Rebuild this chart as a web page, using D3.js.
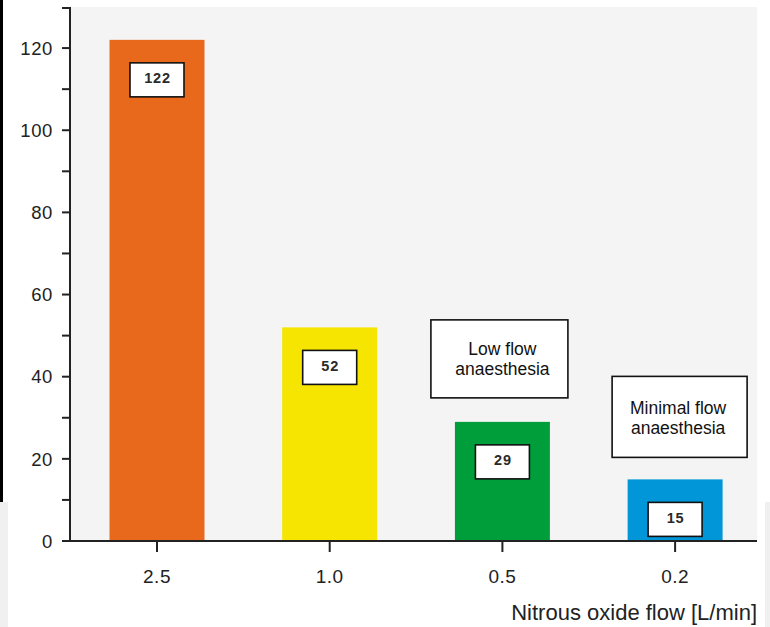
<!DOCTYPE html>
<html><head><meta charset="utf-8">
<script src="https://cdn.jsdelivr.net/npm/d3@7"></script>
<style>body{margin:0;background:#fff}svg{display:block}</style>
</head><body>
<svg id="c" width="770" height="627"></svg>
<script>
const categories = ["2.5", "1.0", "0.5", "0.2"];
const values = [122, 52, 29, 15];
const colors = ["#e8691b", "#f6e500", "#009e3b", "#0096d8"];
const yTicks = [0, 20, 40, 60, 80, 100, 120];
const yMinorTicks = [10, 30, 50, 70, 90, 110, 130];
const annotations = [
  {cat: "0.5", lines: ["Low flow", "anaesthesia"]},
  {cat: "0.2", lines: ["Minimal flow", "anaesthesia"]}
];
const xTitle = "Nitrous oxide flow [L/min]";

const svg = d3.select("#c");
const font = "'Liberation Sans', Arial, Helvetica, sans-serif";
const m = {l: 70, r: 13, t: 7, b: 86};
const W = 770, H = 627;
const pw = W - m.l - m.r, ph = H - m.t - m.b;

// edge artifacts
svg.append("rect").attr("x",0).attr("y",0).attr("width",3).attr("height",546).attr("fill","#000");
svg.append("rect").attr("x",0).attr("y",502).attr("width",8).attr("height",125).attr("fill","#f0f0f0");
svg.append("rect").attr("x",765).attr("y",502).attr("width",5).attr("height",125).attr("fill","#f0f0f0");

const g = svg.append("g").attr("transform", `translate(${m.l},${m.t})`);
g.append("rect").attr("x",1).attr("y",0).attr("width",pw-1).attr("height",ph).attr("fill","#f4f4f4");

const x = d3.scaleBand().domain(categories).range([39.5, 652.6]).paddingInner(0.45).paddingOuter(0);
const y = d3.scaleLinear().domain([0, 130]).range([ph, 0]);
const cx = c => x(c) + x.bandwidth() / 2;

g.selectAll("rect.bar").data(values).join("rect").attr("class","bar")
  .attr("x",(d,i)=>x(categories[i])).attr("width",x.bandwidth())
  .attr("y",d=>y(d)).attr("height",d=>ph-y(d)).attr("fill",(d,i)=>colors[i]);

// value labels
const lbl = g.selectAll("g.lbl").data(values).join("g").attr("class","lbl")
  .attr("transform",(d,i)=>`translate(${cx(categories[i])},${y(d)+23})`);
lbl.append("rect").attr("x",-27).attr("y",0).attr("width",54).attr("height",34)
  .attr("fill","#fff").attr("stroke","#111").attr("stroke-width",1.6);
lbl.append("text").attr("x",0.5).attr("y",20.5).attr("text-anchor","middle")
  .attr("font-family",font).attr("font-size",14.5).attr("font-weight","bold").attr("letter-spacing",0.8)
  .attr("fill","#2a2a2a").text(d=>d);

// annotations
const boxes = [{w:137,h:78,gap:24,dx:-3,tdx:0,b1:-4,b2:16}, {w:135,h:81,gap:22,dx:4.5,tdx:3,b1:-2.5,b2:17.5}];
annotations.forEach((a,k)=>{
  const i = categories.indexOf(a.cat);
  const b = boxes[k];
  const top = y(values[i]) - b.gap - b.h;
  const ag = g.append("g").attr("transform",`translate(${cx(a.cat)},${top})`);
  ag.append("rect").attr("x",-b.w/2+b.dx).attr("y",0).attr("width",b.w).attr("height",b.h)
    .attr("fill","#fff").attr("stroke","#111").attr("stroke-width",1.6);
  a.lines.forEach((t,j)=>{
    ag.append("text").attr("x",b.tdx).attr("y",b.h/2 + (j===0?b.b1:b.b2)).attr("text-anchor","middle")
      .attr("font-family",font).attr("font-size",17.5).attr("fill","#111").text(t);
  });
});

// y axis
const ya = g.append("g");
ya.append("line").attr("x1",0).attr("x2",0).attr("y1",0).attr("y2",ph).attr("stroke","#222").attr("stroke-width",2);
ya.selectAll("line.maj").data(yTicks).join("line").attr("class","maj")
  .attr("x1",-8).attr("x2",0).attr("y1",d=>y(d)).attr("y2",d=>y(d)).attr("stroke","#222").attr("stroke-width",2);
ya.selectAll("line.min").data(yMinorTicks).join("line").attr("class","min")
  .attr("x1",-8).attr("x2",0).attr("y1",d=>Math.max(1,y(d))).attr("y2",d=>Math.max(1,y(d))).attr("stroke","#222").attr("stroke-width",2);
ya.selectAll("text").data(yTicks).join("text")
  .attr("x",-17).attr("y",d=>y(d)).attr("dy","0.36em").attr("text-anchor","end")
  .attr("font-family",font).attr("font-size",18.5).attr("letter-spacing",0.6).attr("fill","#222").text(d=>d);

// x axis
const xa = g.append("g").attr("transform",`translate(0,${ph})`);
xa.append("line").attr("x1",0).attr("x2",pw).attr("y1",0).attr("y2",0).attr("stroke","#222").attr("stroke-width",2);
xa.selectAll("line.t").data(categories).join("line").attr("class","t")
  .attr("x1",d=>cx(d)).attr("x2",d=>cx(d)).attr("y1",0).attr("y2",11)
  .attr("stroke","#222").attr("stroke-width",2);
xa.selectAll("text").data(categories).join("text")
  .attr("x",d=>cx(d)).attr("y",42).attr("text-anchor","middle")
  .attr("font-family",font).attr("font-size",19).attr("letter-spacing",0.5).attr("fill","#222").text(d=>d);

g.append("text").attr("x",pw).attr("y",ph+79).attr("text-anchor","end")
  .attr("font-family",font).attr("font-size",22).attr("fill","#222").text(xTitle);
</script>
</body></html>
